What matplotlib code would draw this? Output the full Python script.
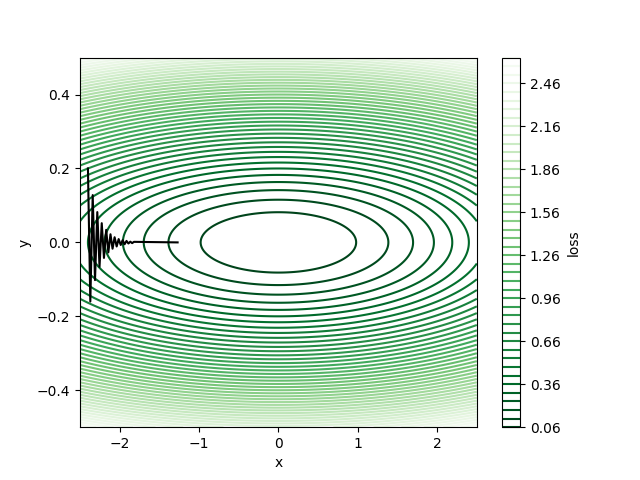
import numpy as np
import matplotlib
matplotlib.use("Agg")
import matplotlib.pyplot as plt

# loss surface f(x, y) = x^2/16 + 9 y^2
coef_x = 1 / 16
coef_y = 9.0
x_range = [-2.5, 2.5]
y_range = [-0.5, 0.5]

# contour levels and colorbar ticks
levels = [round(0.06 * k, 2) for k in range(1, 45)]
cbar_ticks = [0.06, 0.36, 0.66, 0.96, 1.26, 1.56, 1.86, 2.16, 2.46]

# descent path
path_x = [-2.400, -2.370, -2.340, -2.311, -2.282, -2.254, -2.226, -2.198,
          -2.170, -2.143, -2.116, -2.090, -2.064, -2.038, -2.013, -1.987,
          -1.963, -1.938, -1.914, -1.890, -1.866, -1.843, -1.820, -1.270]
path_y = [0.200, -0.160, 0.128, -0.102, 0.082, -0.066, 0.052, -0.042,
          0.034, -0.027, 0.022, -0.017, 0.014, -0.011, 0.009, -0.007,
          0.006, -0.005, 0.004, -0.003, 0.002, -0.002, 0.0015, 0.0]

xs = np.linspace(x_range[0], x_range[1], 400)
ys = np.linspace(y_range[0], y_range[1], 400)
X, Y = np.meshgrid(xs, ys)
Z = coef_x * X ** 2 + coef_y * Y ** 2

fig, ax = plt.subplots(figsize=(6.4, 4.8), dpi=100)
cs = ax.contour(X, Y, Z, levels=levels, cmap="Greens_r")
cbar = fig.colorbar(cs, ax=ax)
cbar.set_ticks(cbar_ticks)
cbar.set_ticklabels(["%.2f" % t for t in cbar_ticks])
cbar.set_label("loss")

ax.plot(path_x, path_y, color="black")
ax.set_xlim(x_range)
ax.set_ylim(y_range)
ax.set_xlabel("x")
ax.set_ylabel("y")

fig.savefig("out.png")
